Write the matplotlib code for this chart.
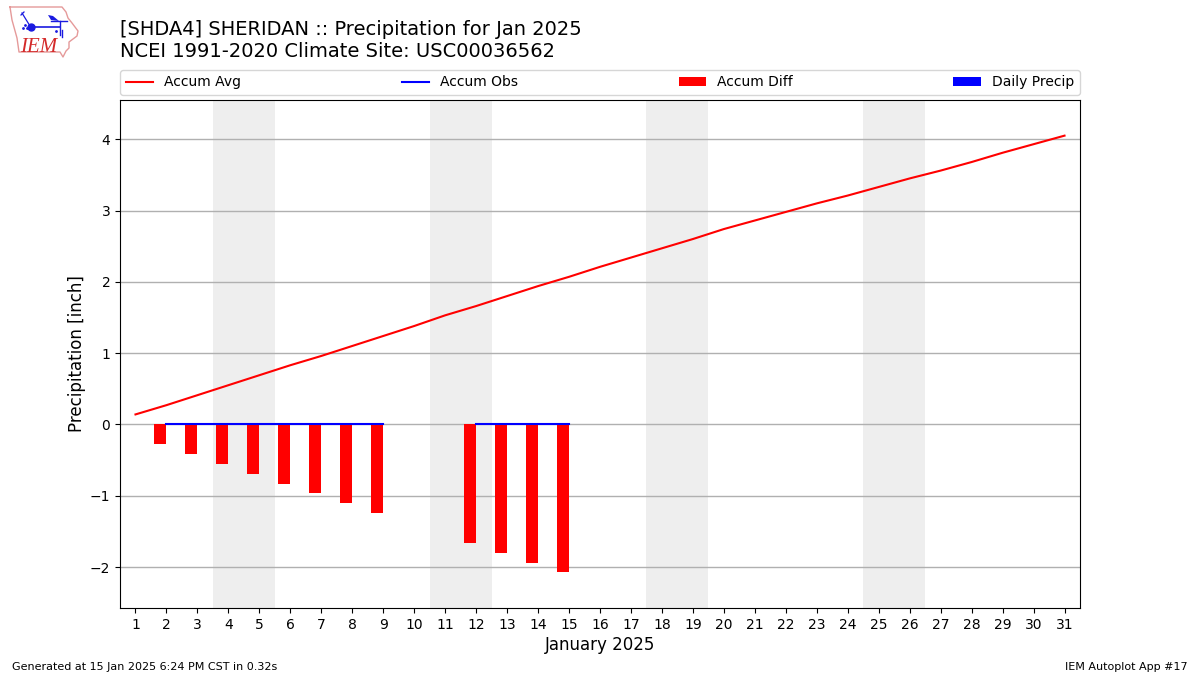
import numpy as np
import matplotlib
matplotlib.use("Agg")
import matplotlib.pyplot as plt

days = list(range(1, 32))
accum_avg = [0.14, 0.27, 0.41, 0.55, 0.69, 0.83, 0.96, 1.10, 1.24, 1.38, 1.53, 1.66, 1.80, 1.94, 2.07,
             2.21, 2.34, 2.47, 2.60, 2.74, 2.86, 2.98, 3.10, 3.21, 3.33, 3.45, 3.56, 3.68, 3.81, 3.93, 4.05]
obs_days = [2, 3, 4, 5, 6, 7, 8, 9, None, None, 12, 13, 14, 15]
accum_obs = [0, 0, 0, 0, 0, 0, 0, 0, None, None, 0, 0, 0, 0]
diff_days = [2, 3, 4, 5, 6, 7, 8, 9, 12, 13, 14, 15]
accum_diff = [-0.27, -0.41, -0.55, -0.69, -0.83, -0.96, -1.10, -1.24, -1.66, -1.80, -1.94, -2.07]
weekends = [(3.5, 5.5), (10.5, 12.5), (17.5, 19.5), (24.5, 26.5)]

W, H = 1200, 675
fig = plt.figure(figsize=(12, 6.75), dpi=100)
ax = fig.add_axes([120 / W, 1 - 608 / H, 960 / W, 508 / H])

for a, b in weekends:
    ax.axvspan(a, b, color="#eeeeee", lw=0, zorder=0)
ax.set_axisbelow(True)
ax.yaxis.grid(True, color="#b0b0b0", lw=1)

ax.bar(diff_days, accum_diff, width=-0.4, align="edge", color="r", label="Accum Diff", zorder=2)
ax.bar([0], [0], color="b", label="Daily Precip")
ax.plot(days, accum_avg, color="r", lw=1.5, label="Accum Avg", zorder=3)
ox = [np.nan if d is None else d for d in obs_days]
oy = [np.nan if v is None else v for v in accum_obs]
ax.plot(ox, oy, color="b", lw=1.5, label="Accum Obs", zorder=3)

ax.set_xlim(0.5, 31.5)
ax.set_ylim(-2.575, 4.55)
ax.set_xticks(days)
ax.set_yticks([-2, -1, 0, 1, 2, 3, 4])
ax.tick_params(labelsize=10)
ax.set_xlabel("January 2025", fontsize=12, labelpad=3)
ax.set_ylabel("Precipitation [inch]", fontsize=12, labelpad=3)

h, l = ax.get_legend_handles_labels()
order = [l.index(x) for x in ["Accum Avg", "Accum Obs", "Accum Diff", "Daily Precip"]]
ax.legend([h[i] for i in order], [l[i] for i in order], ncol=4, mode="expand",
          loc="lower left", bbox_to_anchor=(0, 1 + 5 / 508, 1, 0.05), borderaxespad=0, fontsize=10)

fig.text(120 / W, 1 - 57 / H,
         "[SHDA4] SHERIDAN :: Precipitation for Jan 2025\nNCEI 1991-2020 Climate Site: USC00036562",
         fontsize=14, va="baseline", ha="left", linespacing=1.2)
fig.text(12 / W, 1 - 670 / H, "Generated at 15 Jan 2025 6:24 PM CST in 0.32s", fontsize=8, ha="left", va="baseline")
fig.text(1188 / W, 1 - 670 / H, "IEM Autoplot App #17", fontsize=8, ha="right", va="baseline")

# IEM logo, redrawn in pixel coordinates
logo = fig.add_axes([0, 1 - 60 / H, 85 / W, 60 / H])
logo.set_xlim(0, 85)
logo.set_ylim(60, 0)
logo.axis("off")
outline_x = [10, 62, 66, 68, 72, 78, 77, 69, 69, 66, 63, 60, 19, 17, 12, 10]
outline_y = [7, 7, 12, 18, 23, 31, 36, 42, 48, 51, 57, 52, 52, 38, 20, 7]
logo.plot(outline_x, outline_y, color="#e59a9a", lw=1)
logo.text(20.5, 52, "IEM", color="#d42a2a", fontsize=15, family="Liberation Serif", style="italic", va="baseline")
logo.plot([30, 60], [27, 27], color="#1a1ae0", lw=1.2)
logo.plot([22, 30], [13, 26], color="#1a1ae0", lw=0.9)
logo.plot([21, 24], [15, 12], color="#1a1ae0", lw=0.9)
logo.fill([48, 53, 59, 51], [15, 16, 21, 20], color="#1a1ae0", lw=0)
logo.plot([51, 67], [21, 21], color="#1a1ae0", lw=1)
logo.plot([60, 60], [21, 35], color="#1a1ae0", lw=1)
logo.plot([62, 62], [30, 37], color="#1a1ae0", lw=1)
logo.plot([31], [27], "o", color="#1a1ae0", ms=5)
logo.plot([23, 25, 27, 56], [28, 25, 28, 31], ".", color="#1a1ae0", ms=2)

fig.savefig("out.png", dpi=100)
